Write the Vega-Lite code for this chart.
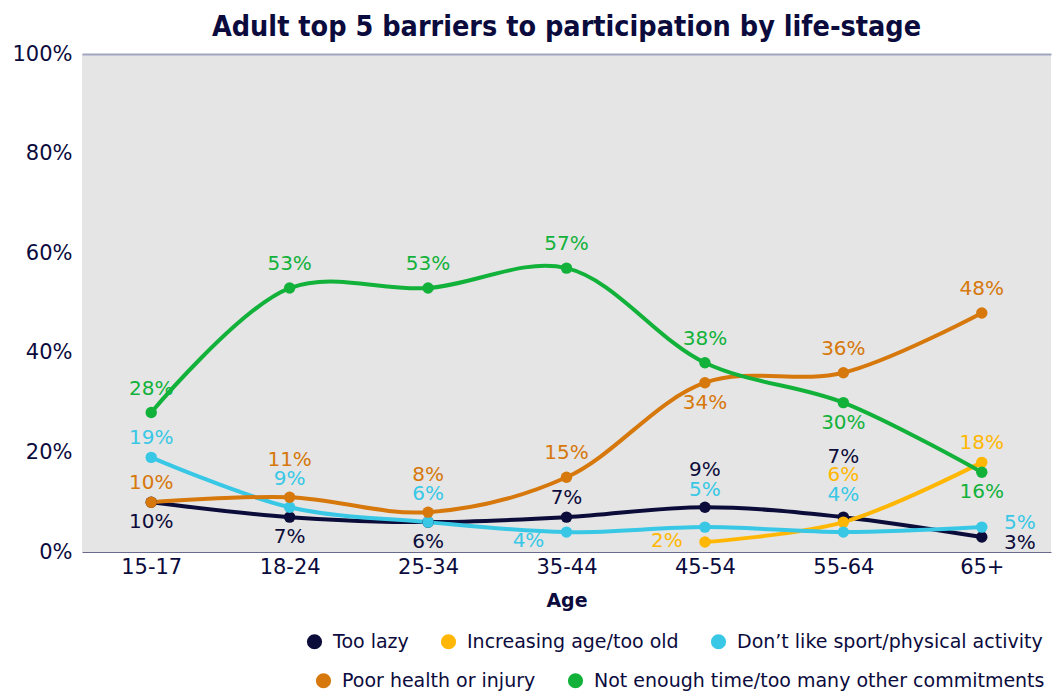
{
  "$schema": "https://vega.github.io/schema/vega-lite/v6.json",
  "width": 969,
  "height": 498,
  "autosize": {"type": "none"},
  "padding": {"left": 82, "top": 54, "right": 2, "bottom": 139},
  "background": "white",
  "title": {
    "text": "Adult top 5 barriers to participation by life-stage",
    "font": "DejaVu Sans Condensed",
    "fontSize": 28.5,
    "fontWeight": "bold",
    "color": "#0b0b3d",
    "anchor": "middle",
    "offset": 2
  },
  "config": {
    "font": "DejaVu Sans",
    "view": {"fill": "#e5e5e5", "stroke": null}
  },
  "data": {
    "values": [
      {"age": "15-17", "series": "Too lazy", "value": 0.10},
      {"age": "18-24", "series": "Too lazy", "value": 0.07},
      {"age": "25-34", "series": "Too lazy", "value": 0.06},
      {"age": "35-44", "series": "Too lazy", "value": 0.07},
      {"age": "45-54", "series": "Too lazy", "value": 0.09},
      {"age": "55-64", "series": "Too lazy", "value": 0.07},
      {"age": "65+", "series": "Too lazy", "value": 0.03},
      {"age": "45-54", "series": "Increasing age/too old", "value": 0.02},
      {"age": "55-64", "series": "Increasing age/too old", "value": 0.06},
      {"age": "65+", "series": "Increasing age/too old", "value": 0.18},
      {"age": "15-17", "series": "Don’t like sport/physical activity", "value": 0.19},
      {"age": "18-24", "series": "Don’t like sport/physical activity", "value": 0.09},
      {"age": "25-34", "series": "Don’t like sport/physical activity", "value": 0.06},
      {"age": "35-44", "series": "Don’t like sport/physical activity", "value": 0.04},
      {"age": "45-54", "series": "Don’t like sport/physical activity", "value": 0.05},
      {"age": "55-64", "series": "Don’t like sport/physical activity", "value": 0.04},
      {"age": "65+", "series": "Don’t like sport/physical activity", "value": 0.05},
      {"age": "15-17", "series": "Poor health or injury", "value": 0.10},
      {"age": "18-24", "series": "Poor health or injury", "value": 0.11},
      {"age": "25-34", "series": "Poor health or injury", "value": 0.08},
      {"age": "35-44", "series": "Poor health or injury", "value": 0.15},
      {"age": "45-54", "series": "Poor health or injury", "value": 0.34},
      {"age": "55-64", "series": "Poor health or injury", "value": 0.36},
      {"age": "65+", "series": "Poor health or injury", "value": 0.48},
      {"age": "15-17", "series": "Not enough time/too many other commitments", "value": 0.28},
      {"age": "18-24", "series": "Not enough time/too many other commitments", "value": 0.53},
      {"age": "25-34", "series": "Not enough time/too many other commitments", "value": 0.53},
      {"age": "35-44", "series": "Not enough time/too many other commitments", "value": 0.57},
      {"age": "45-54", "series": "Not enough time/too many other commitments", "value": 0.38},
      {"age": "55-64", "series": "Not enough time/too many other commitments", "value": 0.30},
      {"age": "65+", "series": "Not enough time/too many other commitments", "value": 0.16}
    ]
  },
  "encoding": {
    "x": {
      "field": "age",
      "type": "ordinal",
      "sort": ["15-17", "18-24", "25-34", "35-44", "45-54", "55-64", "65+"],
      "scale": {"type": "point", "padding": 0.5},
      "axis": {
        "title": "Age",
        "titleFont": "DejaVu Sans",
        "titleFontSize": 19,
        "titleFontWeight": "bold",
        "titleColor": "#0b0b3d",
        "titlePadding": 14,
        "labelAngle": 0,
        "labelFontSize": 21,
        "labelColor": "#0b0b3d",
        "labelPadding": 4,
        "ticks": false,
        "domainColor": "#6a6a8e",
        "domainWidth": 1.2
      }
    },
    "y": {
      "field": "value",
      "type": "quantitative",
      "scale": {"domain": [0, 1]},
      "axis": {
        "title": null,
        "values": [0, 0.2, 0.4, 0.6, 0.8, 1],
        "format": ".0%",
        "labelFontSize": 21,
        "labelColor": "#0b0b3d",
        "labelPadding": 10,
        "ticks": false,
        "domain": false,
        "grid": true,
        "gridWidth": 2,
        "gridColor": {"condition": {"test": "datum.value === 1", "value": "#a2a5c0"}, "value": null}
      }
    }
  },
  "layer": [
    {
      "mark": {"type": "line", "interpolate": "catmull-rom", "strokeWidth": 4},
      "encoding": {
        "stroke": {
          "field": "series",
          "type": "nominal",
          "scale": {
            "domain": ["Not enough time/too many other commitments", "Poor health or injury", "Don’t like sport/physical activity", "Increasing age/too old", "Too lazy"],
            "range": ["#12b23a", "#d6780c", "#38c8e6", "#ffb703", "#0c0c3a"]
          },
          "legend": null
        }
      }
    },
    {
      "mark": {"type": "point", "filled": true, "size": 130, "opacity": 1},
      "encoding": {
        "color": {
          "field": "series",
          "type": "nominal",
          "scale": {
            "domain": ["Too lazy", "Increasing age/too old", "Don’t like sport/physical activity", "Poor health or injury", "Not enough time/too many other commitments"],
            "range": ["#0c0c3a", "#ffb703", "#38c8e6", "#d6780c", "#12b23a"]
          },
          "legend": {
            "values": ["Too lazy", "Increasing age/too old", "Don’t like sport/physical activity"],
            "title": null,
            "orient": "none",
            "legendX": 223,
            "legendY": 578,
            "direction": "horizontal",
            "symbolType": "circle",
            "symbolSize": 230,
            "symbolStrokeWidth": 0,
            "labelFontSize": 19,
            "labelColor": "#0b0b3d",
            "labelOffset": 9,
            "columnPadding": 30,
            "labelLimit": 600
          }
        }
      }
    },
    {
      "encoding": {
        "fill": {
          "field": "series",
          "type": "nominal",
          "scale": {
            "domain": ["Poor health or injury", "Not enough time/too many other commitments", "Too lazy", "Increasing age/too old", "Don’t like sport/physical activity"],
            "range": ["#d6780c", "#12b23a", "#0c0c3a", "#ffb703", "#38c8e6"]
          },
          "legend": {
            "values": ["Poor health or injury", "Not enough time/too many other commitments"],
            "title": null,
            "orient": "none",
            "legendX": 232,
            "legendY": 617,
            "direction": "horizontal",
            "symbolType": "circle",
            "symbolSize": 230,
            "symbolStrokeWidth": 0,
            "labelFontSize": 19,
            "labelColor": "#0b0b3d",
            "labelOffset": 9,
            "columnPadding": 30,
            "labelLimit": 600
          }
        },
        "text": {"field": "value", "format": ".0%"}
      },
      "layer": [
        {
          "transform": [{"filter": "indexof(['Not enough time/too many other commitments|15-17','Not enough time/too many other commitments|18-24','Not enough time/too many other commitments|25-34','Not enough time/too many other commitments|35-44','Not enough time/too many other commitments|45-54','Poor health or injury|35-44','Poor health or injury|55-64','Poor health or injury|65+'], datum.series + '|' + datum.age) >= 0"}],
          "mark": {"type": "text", "dy": -24, "fontSize": 20}
        },
        {
          "transform": [{"filter": "indexof(['Poor health or injury|15-17','Don’t like sport/physical activity|15-17','Increasing age/too old|65+','Too lazy|35-44'], datum.series + '|' + datum.age) >= 0"}],
          "mark": {"type": "text", "dy": -19, "fontSize": 20}
        },
        {
          "transform": [{"filter": "indexof(['Don’t like sport/physical activity|18-24','Don’t like sport/physical activity|25-34'], datum.series + '|' + datum.age) >= 0"}],
          "mark": {"type": "text", "dy": -28, "fontSize": 20}
        },
        {
          "transform": [{"filter": "indexof(['Poor health or injury|18-24','Poor health or injury|25-34','Too lazy|45-54','Don’t like sport/physical activity|45-54','Don’t like sport/physical activity|55-64'], datum.series + '|' + datum.age) >= 0"}],
          "mark": {"type": "text", "dy": -37, "fontSize": 20}
        },
        {
          "transform": [{"filter": "datum.series === 'Increasing age/too old' && datum.age === '55-64'"}],
          "mark": {"type": "text", "dy": -47, "fontSize": 20}
        },
        {
          "transform": [{"filter": "datum.series === 'Too lazy' && datum.age === '55-64'"}],
          "mark": {"type": "text", "dy": -60, "fontSize": 20}
        },
        {
          "transform": [{"filter": "indexof(['Not enough time/too many other commitments|55-64','Not enough time/too many other commitments|65+','Poor health or injury|45-54','Too lazy|15-17','Too lazy|18-24','Too lazy|25-34'], datum.series + '|' + datum.age) >= 0"}],
          "mark": {"type": "text", "dy": 20, "fontSize": 20}
        },
        {
          "transform": [{"filter": "datum.series === 'Don’t like sport/physical activity' && datum.age === '35-44'"}],
          "mark": {"type": "text", "dx": -38, "dy": 9, "fontSize": 20}
        },
        {
          "transform": [{"filter": "datum.series === 'Increasing age/too old' && datum.age === '45-54'"}],
          "mark": {"type": "text", "dx": -38, "dy": -1, "fontSize": 20}
        },
        {
          "transform": [{"filter": "datum.series === 'Don’t like sport/physical activity' && datum.age === '65+'"}],
          "mark": {"type": "text", "dx": 38, "dy": -4, "fontSize": 20}
        },
        {
          "transform": [{"filter": "datum.series === 'Too lazy' && datum.age === '65+'"}],
          "mark": {"type": "text", "dx": 38, "dy": 6, "fontSize": 20}
        }
      ]
    }
  ]
}
